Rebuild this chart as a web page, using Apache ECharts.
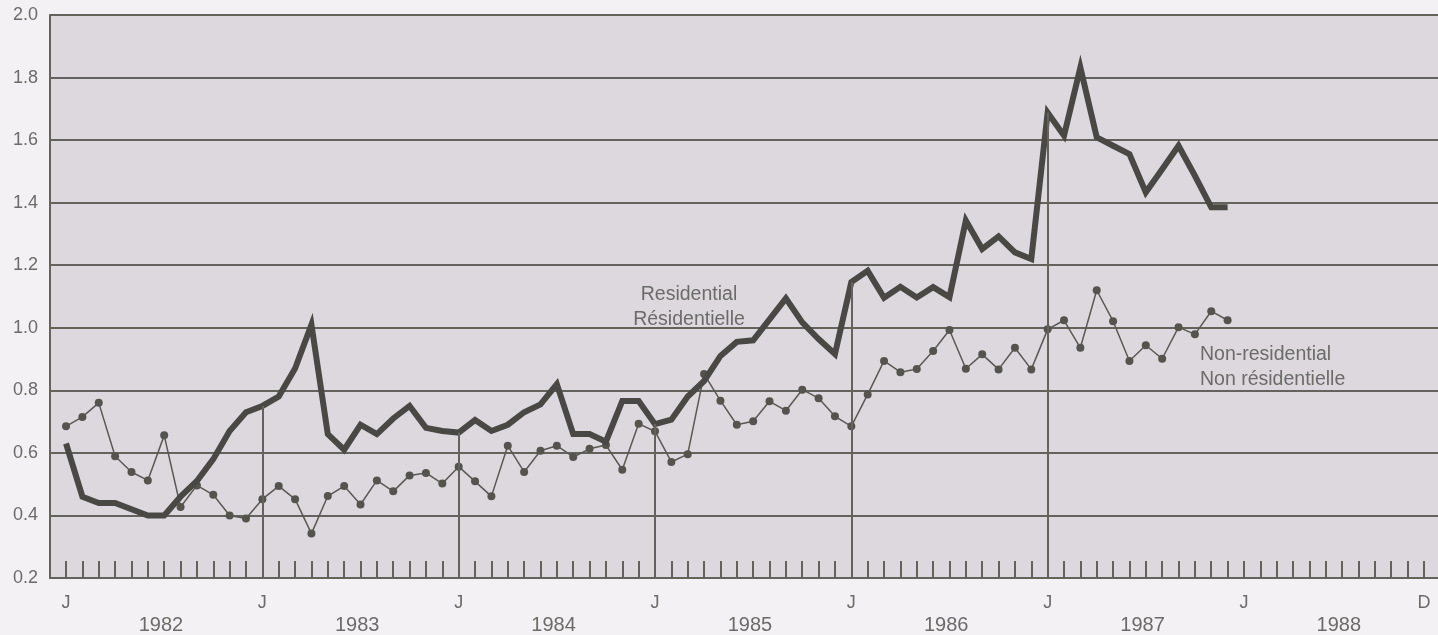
<!DOCTYPE html>
<html>
<head>
<meta charset="utf-8">
<script src="https://cdn.jsdelivr.net/npm/echarts@6/dist/echarts.min.js"></script>
<style>
html,body{margin:0;padding:0;background:#f3f1f3;}
#c{width:1438px;height:635px;}
</style>
</head>
<body>
<div id="c"></div>
<script>
// Monthly values, Jan 1982 .. Dec 1987 (index 0 = Jan 1982)
const residential = [
  0.63, 0.46, 0.44, 0.44, 0.42, 0.40, 0.40, 0.46, 0.51, 0.58, 0.67, 0.73,
  0.75, 0.78, 0.87, 1.01, 0.66, 0.61, 0.69, 0.66, 0.71, 0.75, 0.68, 0.67,
  0.665, 0.705, 0.67, 0.69, 0.73, 0.755, 0.82, 0.66, 0.66, 0.636, 0.766, 0.766,
  0.692, 0.706, 0.78, 0.83, 0.91, 0.955, 0.96, 1.027, 1.094, 1.017, 0.964, 0.916,
  1.146, 1.182, 1.096, 1.131, 1.097, 1.13, 1.098, 1.343, 1.252, 1.292, 1.241, 1.22,
  1.688, 1.614, 1.832, 1.609, 1.582, 1.555, 1.433, 1.507, 1.582, 1.486, 1.385, 1.385
];
const nonResidential = [
  0.685, 0.715, 0.76, 0.589, 0.539, 0.512, 0.656, 0.427, 0.496, 0.466, 0.40, 0.39,
  0.452, 0.494, 0.452, 0.342, 0.462, 0.494, 0.435, 0.512, 0.477, 0.528, 0.536, 0.502,
  0.556, 0.509, 0.461, 0.623, 0.539, 0.607, 0.623, 0.587, 0.613, 0.625, 0.546, 0.693,
  0.669, 0.571, 0.596, 0.852, 0.767, 0.69, 0.701, 0.765, 0.735, 0.802, 0.775, 0.717,
  0.685, 0.787, 0.894, 0.858, 0.868, 0.926, 0.993, 0.869, 0.915, 0.867, 0.936, 0.867,
  0.995, 1.024, 0.936, 1.12, 1.021, 0.894, 0.944, 0.901, 1.002, 0.979, 1.053, 1.024
];
const years = ['1982', '1983', '1984', '1985', '1986', '1987', '1988'];
const monthLabelIdx = [0, 12, 24, 36, 48, 60, 72, 83];
const monthLabels = ['J', 'J', 'J', 'J', 'J', 'J', 'J', 'D'];
const monthTicks = Array.from({length: 84}, (_, i) => i);
const januaryDrops = [12, 24, 36, 48, 60];
const yearLabelPos = years.map((_, k) => k * 12 + 5.8);
const seriesNames = ['Residential\nRésidentielle', 'Non-residential\nNon résidentielle'];

const ink = '#64625d';
const textCol = '#6c6b69';
const font = 'Liberation Sans, Arial, sans-serif';

const chart = echarts.init(document.getElementById('c'), null, {renderer: 'canvas'});
chart.setOption({
  animation: false,
  backgroundColor: '#f3f1f3',
  grid: {left: 50, right: 0, top: 15, bottom: 56, show: true,
         backgroundColor: '#dcd8de', borderWidth: 0},
  xAxis: [{
    type: 'value', min: -0.98, max: 83.86, position: 'bottom',
    axisLine: {show: true, onZero: false, lineStyle: {color: ink, width: 2}},
    axisTick: {show: true, inside: true, length: 17, customValues: monthTicks,
               lineStyle: {color: ink, width: 2}},
    axisLabel: {customValues: monthLabelIdx, margin: 16, fontSize: 18,
                fontFamily: font, color: textCol,
                formatter: v => monthLabels[monthLabelIdx.indexOf(v)] || ''},
    splitLine: {show: false}
  }, {
    type: 'value', min: -0.98, max: 83.86, position: 'bottom', gridIndex: 0,
    axisLine: {show: false, onZero: false}, axisTick: {show: false},
    axisLabel: {customValues: yearLabelPos, margin: 37, fontSize: 20,
                fontFamily: font, color: textCol,
                formatter: v => years[Math.round((v - 5.8) / 12)]},
    splitLine: {show: false}
  }],
  yAxis: {
    type: 'value', min: 0.2, max: 2.0, interval: 0.2,
    axisLine: {show: true, onZero: false, lineStyle: {color: ink, width: 2}},
    axisTick: {show: false},
    axisLabel: {margin: 12, fontSize: 18, color: textCol, fontFamily: font,
                padding: [7, 0, 0, 0],
                formatter: v => v.toFixed(1)},
    splitLine: {show: true, lineStyle: {color: ink, width: 2}}
  },
  series: [{
    name: 'Non-residential', type: 'line',
    data: nonResidential.map((v, i) => [i, v]),
    symbol: 'circle', symbolSize: 8, showSymbol: true,
    itemStyle: {color: '#55534e'},
    lineStyle: {color: '#5a5853', width: 1.5},
    z: 3
  }, {
    name: 'Residential', type: 'line',
    data: residential.map((v, i) => [i, v]),
    symbol: 'none',
    lineStyle: {color: '#4a4845', width: 6, join: 'miter'},
    z: 4,
    markLine: {
      silent: true, symbol: ['none', 'none'], label: {show: false},
      lineStyle: {color: ink, width: 2, type: 'solid'},
      data: januaryDrops.map(i => [{coord: [i, residential[i]]}, {coord: [i, 0.2]}])
    }
  }],
  graphic: [{
    type: 'text', x: 689, y: 282,
    style: {text: seriesNames[0], fill: textCol, fontSize: 19.5, lineHeight: 25,
            align: 'center', verticalAlign: 'top', fontFamily: font}
  }, {
    type: 'text', x: 1200, y: 342,
    style: {text: seriesNames[1], fill: textCol, fontSize: 19.5, lineHeight: 25,
            align: 'left', verticalAlign: 'top', fontFamily: font}
  }]
});
</script>
</body>
</html>
